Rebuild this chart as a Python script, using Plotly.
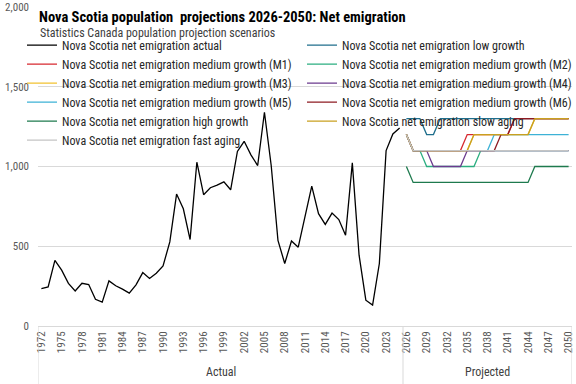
import plotly.graph_objects as go

# ---------------- data ----------------
years_actual = list(range(1972, 2026))
actual = [235, 245, 412, 350, 267, 220, 268, 260, 167, 150,
          283, 252, 231, 206, 258, 335, 298, 331, 377, 527,
          827, 735, 542, 1027, 823, 867, 883, 904, 854, 1094,
          1158, 1073, 1006, 1340, 1006, 537, 392, 533, 494, 694,
          877, 704, 637, 708, 667, 569, 1023, 444, 162, 131,
          392, 1100, 1204, 1242]

years_proj = list(range(2026, 2051))
low_growth = [1300, 1300, 1300, 1200, 1200, 1300, 1300, 1300, 1300, 1300,
              1300, 1300, 1300, 1300, 1300, 1300, 1300, 1300, 1300, 1300,
              1300, 1300, 1300, 1300, 1300]
m1 = [1200, 1100, 1100, 1100, 1100, 1100, 1100, 1100, 1100, 1200,
      1200, 1200, 1200, 1200, 1200, 1200, 1300, 1300, 1300, 1300,
      1300, 1300, 1300, 1300, 1300]
m2 = [1200, 1100, 1100, 1000, 1000, 1000, 1000, 1000, 1000, 1000,
      1000, 1100, 1100, 1100, 1100, 1100, 1100, 1100, 1100, 1100,
      1100, 1100, 1100, 1100, 1100]
m3 = [1200, 1100, 1100, 1100, 1100, 1100, 1100, 1100, 1100, 1100,
      1200, 1200, 1200, 1200, 1200, 1200, 1200, 1200, 1200, 1300,
      1300, 1300, 1300, 1300, 1300]
m4 = [1200, 1100, 1100, 1100, 1000, 1000, 1000, 1000, 1000, 1100,
      1100, 1100, 1100, 1100, 1100, 1100, 1100, 1100, 1100, 1100,
      1100, 1100, 1100, 1100, 1100]
m5 = [1200, 1100, 1100, 1100, 1100, 1100, 1100, 1100, 1100, 1100,
      1100, 1100, 1100, 1200, 1200, 1200, 1200, 1200, 1200, 1200,
      1200, 1200, 1200, 1200, 1200]
m6 = [1200, 1100, 1100, 1100, 1100, 1100, 1100, 1100, 1100, 1100,
      1100, 1100, 1100, 1100, 1200, 1200, 1300, 1300, 1300, 1300,
      1300, 1300, 1300, 1300, 1300]
high_growth = [1000, 900, 900, 900, 900, 900, 900, 900, 900, 900,
               900, 900, 900, 900, 900, 900, 900, 900, 900, 1000,
               1000, 1000, 1000, 1000, 1000]
slow_aging = [1200, 1100, 1100, 1100, 1100, 1100, 1100, 1100, 1100, 1100,
              1200, 1200, 1200, 1200, 1200, 1200, 1200, 1200, 1200, 1300,
              1300, 1300, 1300, 1300, 1300]
fast_aging = [1200, 1100, 1100, 1100, 1100, 1100, 1100, 1100, 1100, 1100,
              1100, 1100, 1100, 1100, 1100, 1100, 1100, 1100, 1100, 1100,
              1100, 1100, 1100, 1100, 1100]

tick_years = [1972, 1975, 1978, 1981, 1984, 1987, 1990, 1993, 1996, 1999,
              2002, 2005, 2008, 2011, 2014, 2017, 2020, 2023, 2026, 2029,
              2032, 2035, 2038, 2041, 2044, 2047, 2050]
group_labels = ["Actual", "Projected"]
group_bounds = [1971.5, 2025.5, 2050.5]

prefix = "Nova Scotia net emigration "
series = [
    ("actual", years_actual, actual, "#000000", "legend"),
    ("low growth", years_proj, low_growth, "#1F6E8C", "legend2"),
    ("medium growth (M1)", years_proj, m1, "#D7282F", "legend"),
    ("medium growth (M2)", years_proj, m2, "#2BAE80", "legend2"),
    ("medium growth (M3)", years_proj, m3, "#F2C230", "legend"),
    ("medium growth (M4)", years_proj, m4, "#6B3A8E", "legend2"),
    ("medium growth (M5)", years_proj, m5, "#3DB2D6", "legend"),
    ("medium growth (M6)", years_proj, m6, "#8E1B22", "legend2"),
    ("high growth", years_proj, high_growth, "#1E7A4E", "legend"),
    ("slow aging", years_proj, slow_aging, "#C9A020", "legend2"),
    ("fast aging", years_proj, fast_aging, "#C4C4C4", "legend"),
]

FONT = "Liberation Sans Narrow, Arial Narrow, Roboto Condensed, sans-serif"

fig = go.Figure()
for name, xs, ys, color, lg in series:
    fig.add_trace(go.Scatter(
        x=xs, y=ys, mode="lines", name=prefix + name,
        line=dict(color=color, width=1.3), legend=lg,
    ))

# group separators for the two-level category axis
for xb in group_bounds:
    fig.add_shape(type="line", xref="x", yref="paper", x0=xb, x1=xb,
                  y0=0, y1=-0.185, line=dict(color="#D9D9D9", width=1))
for i, lab in enumerate(group_labels):
    fig.add_annotation(xref="x", yref="paper",
                       x=(group_bounds[i] + group_bounds[i + 1]) / 2, y=-0.143,
                       text=lab, showarrow=False, xanchor="center", yanchor="middle",
                       font=dict(family=FONT, size=12, color="#404040"))

fig.add_annotation(xref="paper", yref="paper", x=0.0, y=0.919,
                   text="Statistics Canada population projection scenarios",
                   showarrow=False, xanchor="left", yanchor="middle",
                   font=dict(family=FONT, size=12, color="#404040"))

fig.update_layout(
    width=576, height=384,
    margin=dict(l=38, r=4, t=7, b=58, autoexpand=False),
    paper_bgcolor="white", plot_bgcolor="white",
    font=dict(family=FONT, color="#404040"),
    title=dict(text="<b>Nova Scotia population  projections 2026-2050: Net emigration</b>",
               xref="paper", x=0.002, xanchor="left",
               yref="container", y=1 - 17 / 384, yanchor="middle",
               font=dict(family=FONT, size=14.5, color="#000000")),
    showlegend=True,
    legend=dict(xref="container", x=22 / 576, xanchor="left", y=0.926, yanchor="top",
                bgcolor="rgba(0,0,0,0)", orientation="v",
                font=dict(family=FONT, size=12, color="#262626"),
                itemwidth=30, tracegroupgap=0),
    legend2=dict(xref="container", x=302 / 576, xanchor="left", y=0.926, yanchor="top",
                 bgcolor="rgba(0,0,0,0)", orientation="v",
                 font=dict(family=FONT, size=12, color="#262626"),
                 itemwidth=30, tracegroupgap=0),
    xaxis=dict(range=[1971.5, 2050.5], tickmode="array", tickvals=tick_years,
               ticktext=[str(y) for y in tick_years], tickangle=-90,
               showgrid=False, zeroline=False, showline=True,
               linecolor="#D9D9D9", linewidth=1, ticks="",
               tickfont=dict(family=FONT, size=11, color="#595959")),
    yaxis=dict(range=[0, 2000], dtick=500, tickformat=",", showgrid=True,
               gridcolor="#D9D9D9", gridwidth=1, zeroline=False, showline=False,
               ticks="", ticklabelstandoff=8,
               tickfont=dict(family=FONT, size=11, color="#595959")),
)

fig.write_html("out.html", config={"displayModeBar": False},
               post_script="document.body.style.margin='0';document.body.style.padding='0';")
